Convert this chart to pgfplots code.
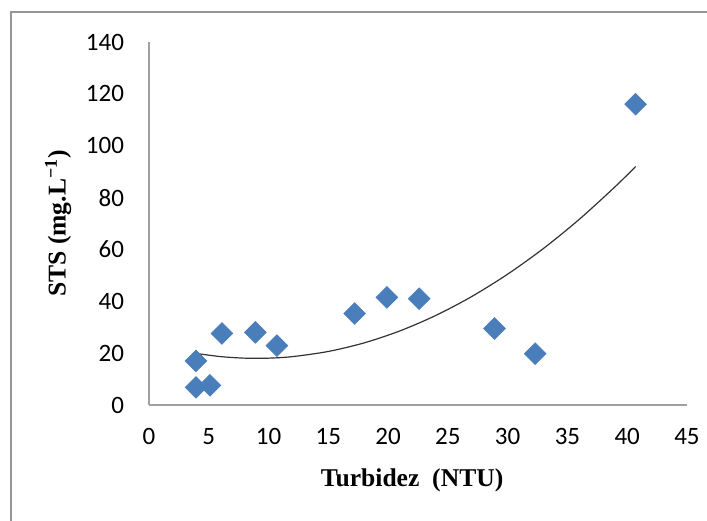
\documentclass[border=0pt]{standalone}
\usepackage{pgfplots}
\pgfplotsset{compat=1.18}
\usepackage{fontspec}
\setmainfont{Liberation Serif}
\newfontfamily\calibri{Carlito}
\definecolor{mk}{RGB}{74,126,187}
\definecolor{ax}{RGB}{160,160,160}
\definecolor{fr}{RGB}{150,150,150}
\begin{document}
\begin{tikzpicture}
\useasboundingbox (-74.5pt,-57.5pt) rectangle (279pt,202.5pt);
\draw[fr, line width=0.9pt] (-69pt,-60pt) -- (-69pt,196.5pt) -- (285pt,196.5pt);
\begin{axis}[
  scale only axis, width=269pt, height=181.5pt,
  at={(0pt,0pt)}, anchor=south west,
  xmin=0, xmax=45, ymin=0, ymax=140,
  xtick={0,5,...,45}, ytick={0,20,...,140},
  axis x line=bottom, axis y line=left,
  axis line style={-, ax, line width=0.6pt},
  major tick length=0pt,
  /pgf/number format/assume math mode=true,
  ticklabel style={font=\calibri\fontsize{12.5}{14}\selectfont},
  xticklabel style={yshift=-8pt},
  yticklabel style={xshift=-9pt},
  xlabel={\textbf{Turbidez\ \ (NTU)}},
  ylabel={\textbf{STS (mg.L\textsuperscript{−1})}},
  xlabel style={font=\fontsize{12.8}{14}\selectfont, at={(axis description cs:0.489,-0.207)}, anchor=center},
  ylabel style={font=\fontsize{12.8}{14}\selectfont, at={(axis description cs:-0.169,0.5)}, rotate=0, anchor=center},
  clip=false,
]
\addplot[only marks, mark=square*, mark size=3.8pt, mark options={rotate=45, fill=mk, draw=mk}] coordinates {
(3.93,17.0) (3.93,6.8) (5.1,7.6) (6.1,27.6) (8.9,28.0) (10.7,22.9)
(17.2,35.3) (19.9,41.5) (22.6,41.0) (28.9,29.5) (32.3,19.8) (40.7,116.0)
};
\addplot[smooth, black!80, line width=0.6pt] coordinates {
(4,19.84) (6,18.66) (8,18.07) (10,18.07) (12,18.66) (15,20.65) (18,23.96)
(21,28.60) (24,34.56) (27,41.85) (30,50.46) (33,60.39) (36,71.65) (39,84.24) (40.7,91.96)
};
\end{axis}
\end{tikzpicture}
\end{document}
